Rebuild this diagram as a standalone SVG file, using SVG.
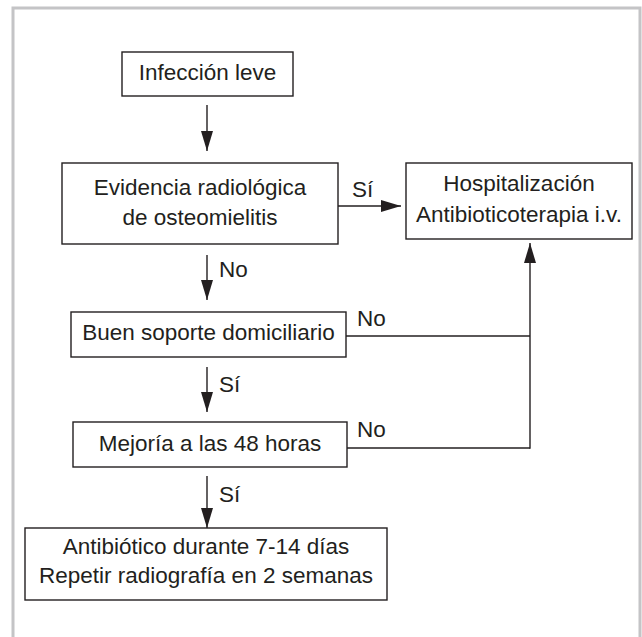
<svg xmlns="http://www.w3.org/2000/svg" width="642" height="637" viewBox="0 0 642 637">
<style>
.box{fill:#fff;stroke:#231f20;stroke-width:1.4}
.t{font-family:"Liberation Sans",Arial,sans-serif;font-size:22.5px;fill:#231f20}
.c{text-anchor:middle}
.ln{fill:none;stroke:#231f20;stroke-width:1.4}
</style>
<defs>
<marker id="ah" markerUnits="userSpaceOnUse" markerWidth="20" markerHeight="12" refX="20" refY="6" orient="auto">
<path d="M0,0 L20,6 L0,12 z" fill="#231f20"/>
</marker>
</defs>
<rect width="642" height="637" fill="#fff"/>
<path d="M13,640 V8 H640 V640" fill="none" stroke="#c4c4c6" stroke-width="3"/>
<g id="n1"><rect class="box" x="122" y="52" width="171" height="44"/><text class="t c" x="207.5" y="80">Infección leve</text></g>
<g id="n2"><rect class="box" x="62" y="163" width="276" height="81"/><text class="t c" x="200" y="195">Evidencia radiológica</text><text class="t c" x="200" y="225">de osteomielitis</text></g>
<g id="n3"><rect class="box" x="406" y="163" width="226" height="76"/><text class="t c" x="519" y="191">Hospitalización</text><text class="t c" x="519" y="222">Antibioticoterapia i.v.</text></g>
<g id="n4"><rect class="box" x="71" y="312" width="275" height="45"/><text class="t c" x="208.5" y="340">Buen soporte domiciliario</text></g>
<g id="n5"><rect class="box" x="73" y="422" width="274" height="45"/><text class="t c" x="210" y="451">Mejoría a las 48 horas</text></g>
<g id="n6"><rect class="box" x="25" y="528" width="362" height="72"/><text class="t c" x="206" y="554">Antibiótico durante 7-14 días</text><text class="t c" x="206" y="583">Repetir radiografía en 2 semanas</text></g>
<g id="connectors">
<line class="ln" x1="207" y1="105" x2="207" y2="151" marker-end="url(#ah)"/>
<line class="ln" x1="338" y1="206" x2="401" y2="206" marker-end="url(#ah)"/>
<text class="t" x="352" y="197">Sí</text>
<line class="ln" x1="207" y1="255" x2="207" y2="300" marker-end="url(#ah)"/>
<text class="t" x="219" y="277">No</text>
<line class="ln" x1="207" y1="367" x2="207" y2="412" marker-end="url(#ah)"/>
<text class="t" x="219" y="392">Sí</text>
<line class="ln" x1="207" y1="476" x2="207" y2="528" marker-end="url(#ah)"/>
<text class="t" x="219" y="502">Sí</text>
<line class="ln" x1="346" y1="336" x2="530" y2="336"/>
<text class="t" x="357" y="326">No</text>
<line class="ln" x1="347" y1="448" x2="530" y2="448"/>
<text class="t" x="357" y="437">No</text>
<line class="ln" x1="530" y1="448.7" x2="530" y2="243" marker-end="url(#ah)"/>
</g>
</svg>
